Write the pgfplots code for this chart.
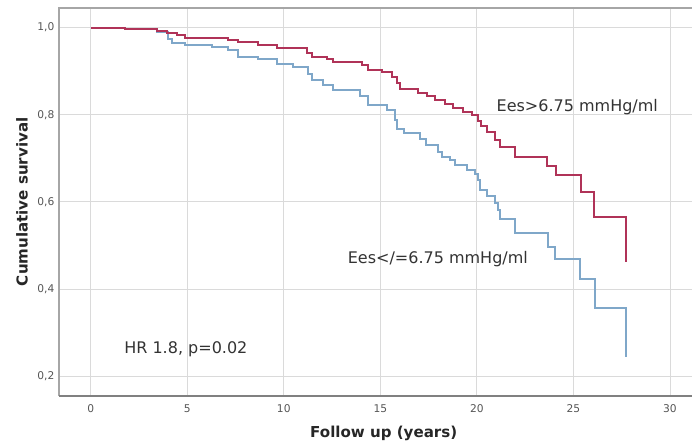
\documentclass[border=0pt]{standalone}
\usepackage{fontspec}
\setmainfont{DejaVu Sans}
\usepackage{pgfplots}
\pgfplotsset{compat=1.18}

\definecolor{eeshigh}{HTML}{B03358}
\definecolor{eeslow}{HTML}{7FA7C9}
\definecolor{gridc}{HTML}{DADADA}
\definecolor{tickc}{HTML}{555555}

\begin{document}
\begin{tikzpicture}
% fix the page to the reference's 693x445 px (1 px = 0.75pt)
\useasboundingbox (-44.25pt,-36.98pt) rectangle ++(519.75pt,333.75pt);
\begin{axis}[
  scale only axis,
  width=474.75pt, height=290.8pt,
  xmin=-1.64, xmax=31.14,
  ymin=0.1548, ymax=1.0452,
  xtick={0,5,10,15,20,25,30},
  ytick={0.2,0.4,0.6,0.8,1.0},
  major tick length=0pt,
  grid=major,
  major grid style={gridc, line width=0.6pt},
  axis line style={draw=none},
  clip=false,
  /pgf/number format/assume math mode=true,
  tick label style={font=\fontsize{8}{9}\selectfont, text=tickc},
  yticklabel style={/pgf/number format/.cd, fixed, fixed zerofill, precision=1, use comma},
  xticklabel style={yshift=-3pt},
  xlabel={Follow up (years)},
  ylabel={Cumulative survival},
  xlabel style={at={(axis description cs:0.513,0)}, anchor=center, yshift=-28pt,
    font=\bfseries\fontsize{11.3}{13}\selectfont, text=black!85},
  ylabel style={at={(axis description cs:0,0.5)}, anchor=center, yshift=27.75pt,
    font=\bfseries\fontsize{11.3}{13}\selectfont, text=black!85},
]
  % Ees </= 6.75 mmHg/ml
  \addplot[const plot, eeslow, line width=1.5pt] coordinates {
    (0,1.000) (1.78,0.996) (3.42,0.991) (4.02,0.975) (4.19,0.964) (4.88,0.960)
    (6.26,0.956) (7.12,0.949) (7.64,0.933) (8.68,0.929) (9.63,0.917) (10.49,0.910)
    (11.26,0.893) (11.44,0.880) (12.04,0.868) (12.56,0.857) (13.94,0.842) (14.37,0.822)
    (15.32,0.810) (15.75,0.788) (15.88,0.767) (16.22,0.758) (17.05,0.744) (17.35,0.731)
    (18.00,0.715) (18.18,0.704) (18.60,0.696) (18.87,0.685) (19.47,0.673) (19.90,0.664)
    (20.07,0.650) (20.16,0.627) (20.50,0.614) (20.94,0.597) (21.10,0.581) (21.19,0.560)
    (21.96,0.528) (23.69,0.497) (24.03,0.469) (25.33,0.422) (26.10,0.356) (27.74,0.244)
  };
  % Ees > 6.75 mmHg/ml
  \addplot[const plot, eeshigh, line width=1.5pt] coordinates {
    (0,1.000) (1.78,0.996) (3.42,0.992) (3.93,0.987) (4.45,0.982) (4.88,0.977)
    (7.12,0.972) (7.64,0.967) (8.68,0.960) (9.63,0.953) (11.18,0.941) (11.44,0.933)
    (12.22,0.927) (12.56,0.922) (14.03,0.914) (14.37,0.903) (15.07,0.899) (15.59,0.887)
    (15.85,0.872) (16.02,0.860) (16.97,0.851) (17.40,0.842) (17.83,0.834) (18.35,0.824)
    (18.78,0.815) (19.30,0.807) (19.73,0.800) (20.07,0.786) (20.20,0.773) (20.50,0.761)
    (20.94,0.742) (21.19,0.727) (21.96,0.703) (23.65,0.683) (24.10,0.662) (25.38,0.622)
    (26.05,0.566) (27.74,0.462)
  };
  % frame
  \draw[black!35, line width=0.9pt] (rel axis cs:0,0) -- (rel axis cs:0,1) -- (rel axis cs:1,1);
  \draw[black!50, line width=1.3pt] (rel axis cs:0,0) -- (rel axis cs:1,0);
  % annotations
  \node[font=\fontsize{12}{14}\selectfont, text=black!80] at (axis cs:25.2,0.818) {Ees>6.75 mmHg/ml};
  \node[font=\fontsize{12}{14}\selectfont, text=black!80] at (axis cs:17.98,0.468) {Ees</=6.75 mmHg/ml};
  \node[font=\fontsize{12}{14}\selectfont, text=black!80] at (axis cs:4.93,0.262) {HR 1.8, p=0.02};
\end{axis}
\end{tikzpicture}
\end{document}
